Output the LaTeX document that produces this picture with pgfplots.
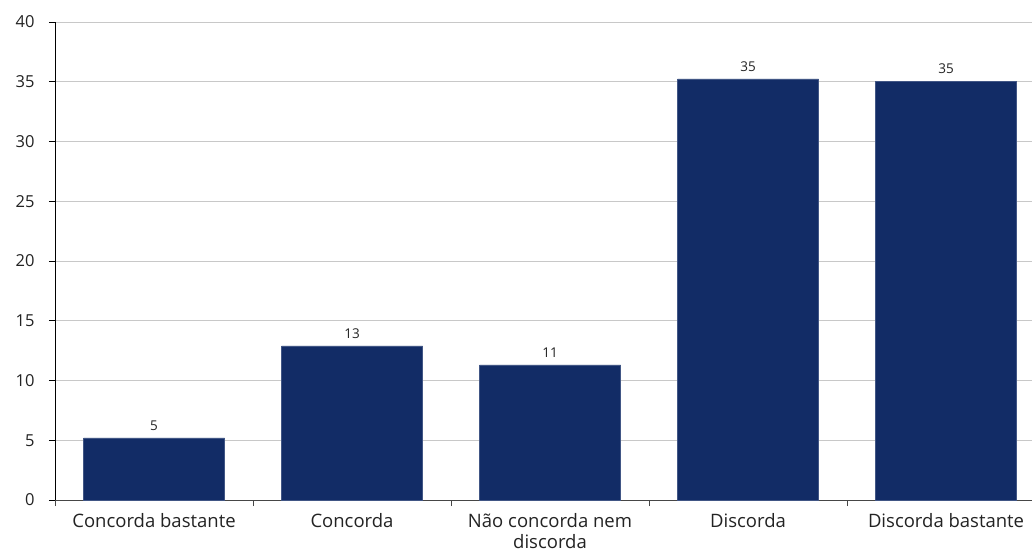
\documentclass[border=0pt]{standalone}
\usepackage{fontspec}
\setmainfont{Open Sans}
\usepackage{pgfplots}
\pgfplotsset{compat=1.18}
\definecolor{barblue}{RGB}{18,44,102}
\definecolor{gridgray}{RGB}{200,200,200}
\definecolor{txt}{RGB}{35,35,35}
\definecolor{axgray}{RGB}{70,70,70}
\begin{document}
\begin{tikzpicture}
\begin{axis}[
  at={(0,0)}, anchor=south west,
  scale only axis, width=977bp, height=478bp,
  xmin=-0.5, xmax=4.434, ymin=0, ymax=40,
  ytick={0,5,...,40},
  ymajorgrids, grid style={gridgray, line width=0.8bp},
  axis x line*=bottom, axis y line*=left,
  axis line style={-},
  y axis line style={black, line width=0.8bp},
  x axis line style={axgray, line width=0.8bp},
  tick align=outside,
  ytick style={black, line width=0.8bp},
  major tick length=6bp,
  xtick={0,1,2,3,4},
  xtick style={draw=none},
  xticklabels={Concorda bastante, Concorda, {Não concorda nem\\discorda}, Discorda, Discorda bastante},
  xticklabel style={align=center, font=\fontsize{18.5bp}{21.5bp}\selectfont, text=txt, yshift=-3.5bp},
  yticklabel style={font=\fontsize{16.5bp}{19bp}\selectfont, text=txt, xshift=-11bp},
  /pgf/number format/assume math mode=true,
  extra x ticks={-0.5,0.5,1.5,2.5,3.5},
  extra x tick labels={},
  extra x tick style={grid=none, xtick style={draw=axgray, line width=0.8bp}},
  ybar, bar width=0.712,
  point meta=explicit symbolic,
  nodes near coords,
  nodes near coords style={font=\fontsize{13.5bp}{16bp}\selectfont, text=txt, yshift=4bp},
  clip=false,
]
\addplot[fill=barblue, draw=barblue!80!white, line width=0.4bp] coordinates {
  (0,5.2) [5]
  (1,12.9) [13]
  (2,11.3) [11]
  (3,35.25) [35]
  (4,35.05) [35]
};
\end{axis}
\pgfresetboundingbox
\path[use as bounding box] (-55bp,-52bp) rectangle (977bp,500bp);
\end{tikzpicture}
\end{document}
